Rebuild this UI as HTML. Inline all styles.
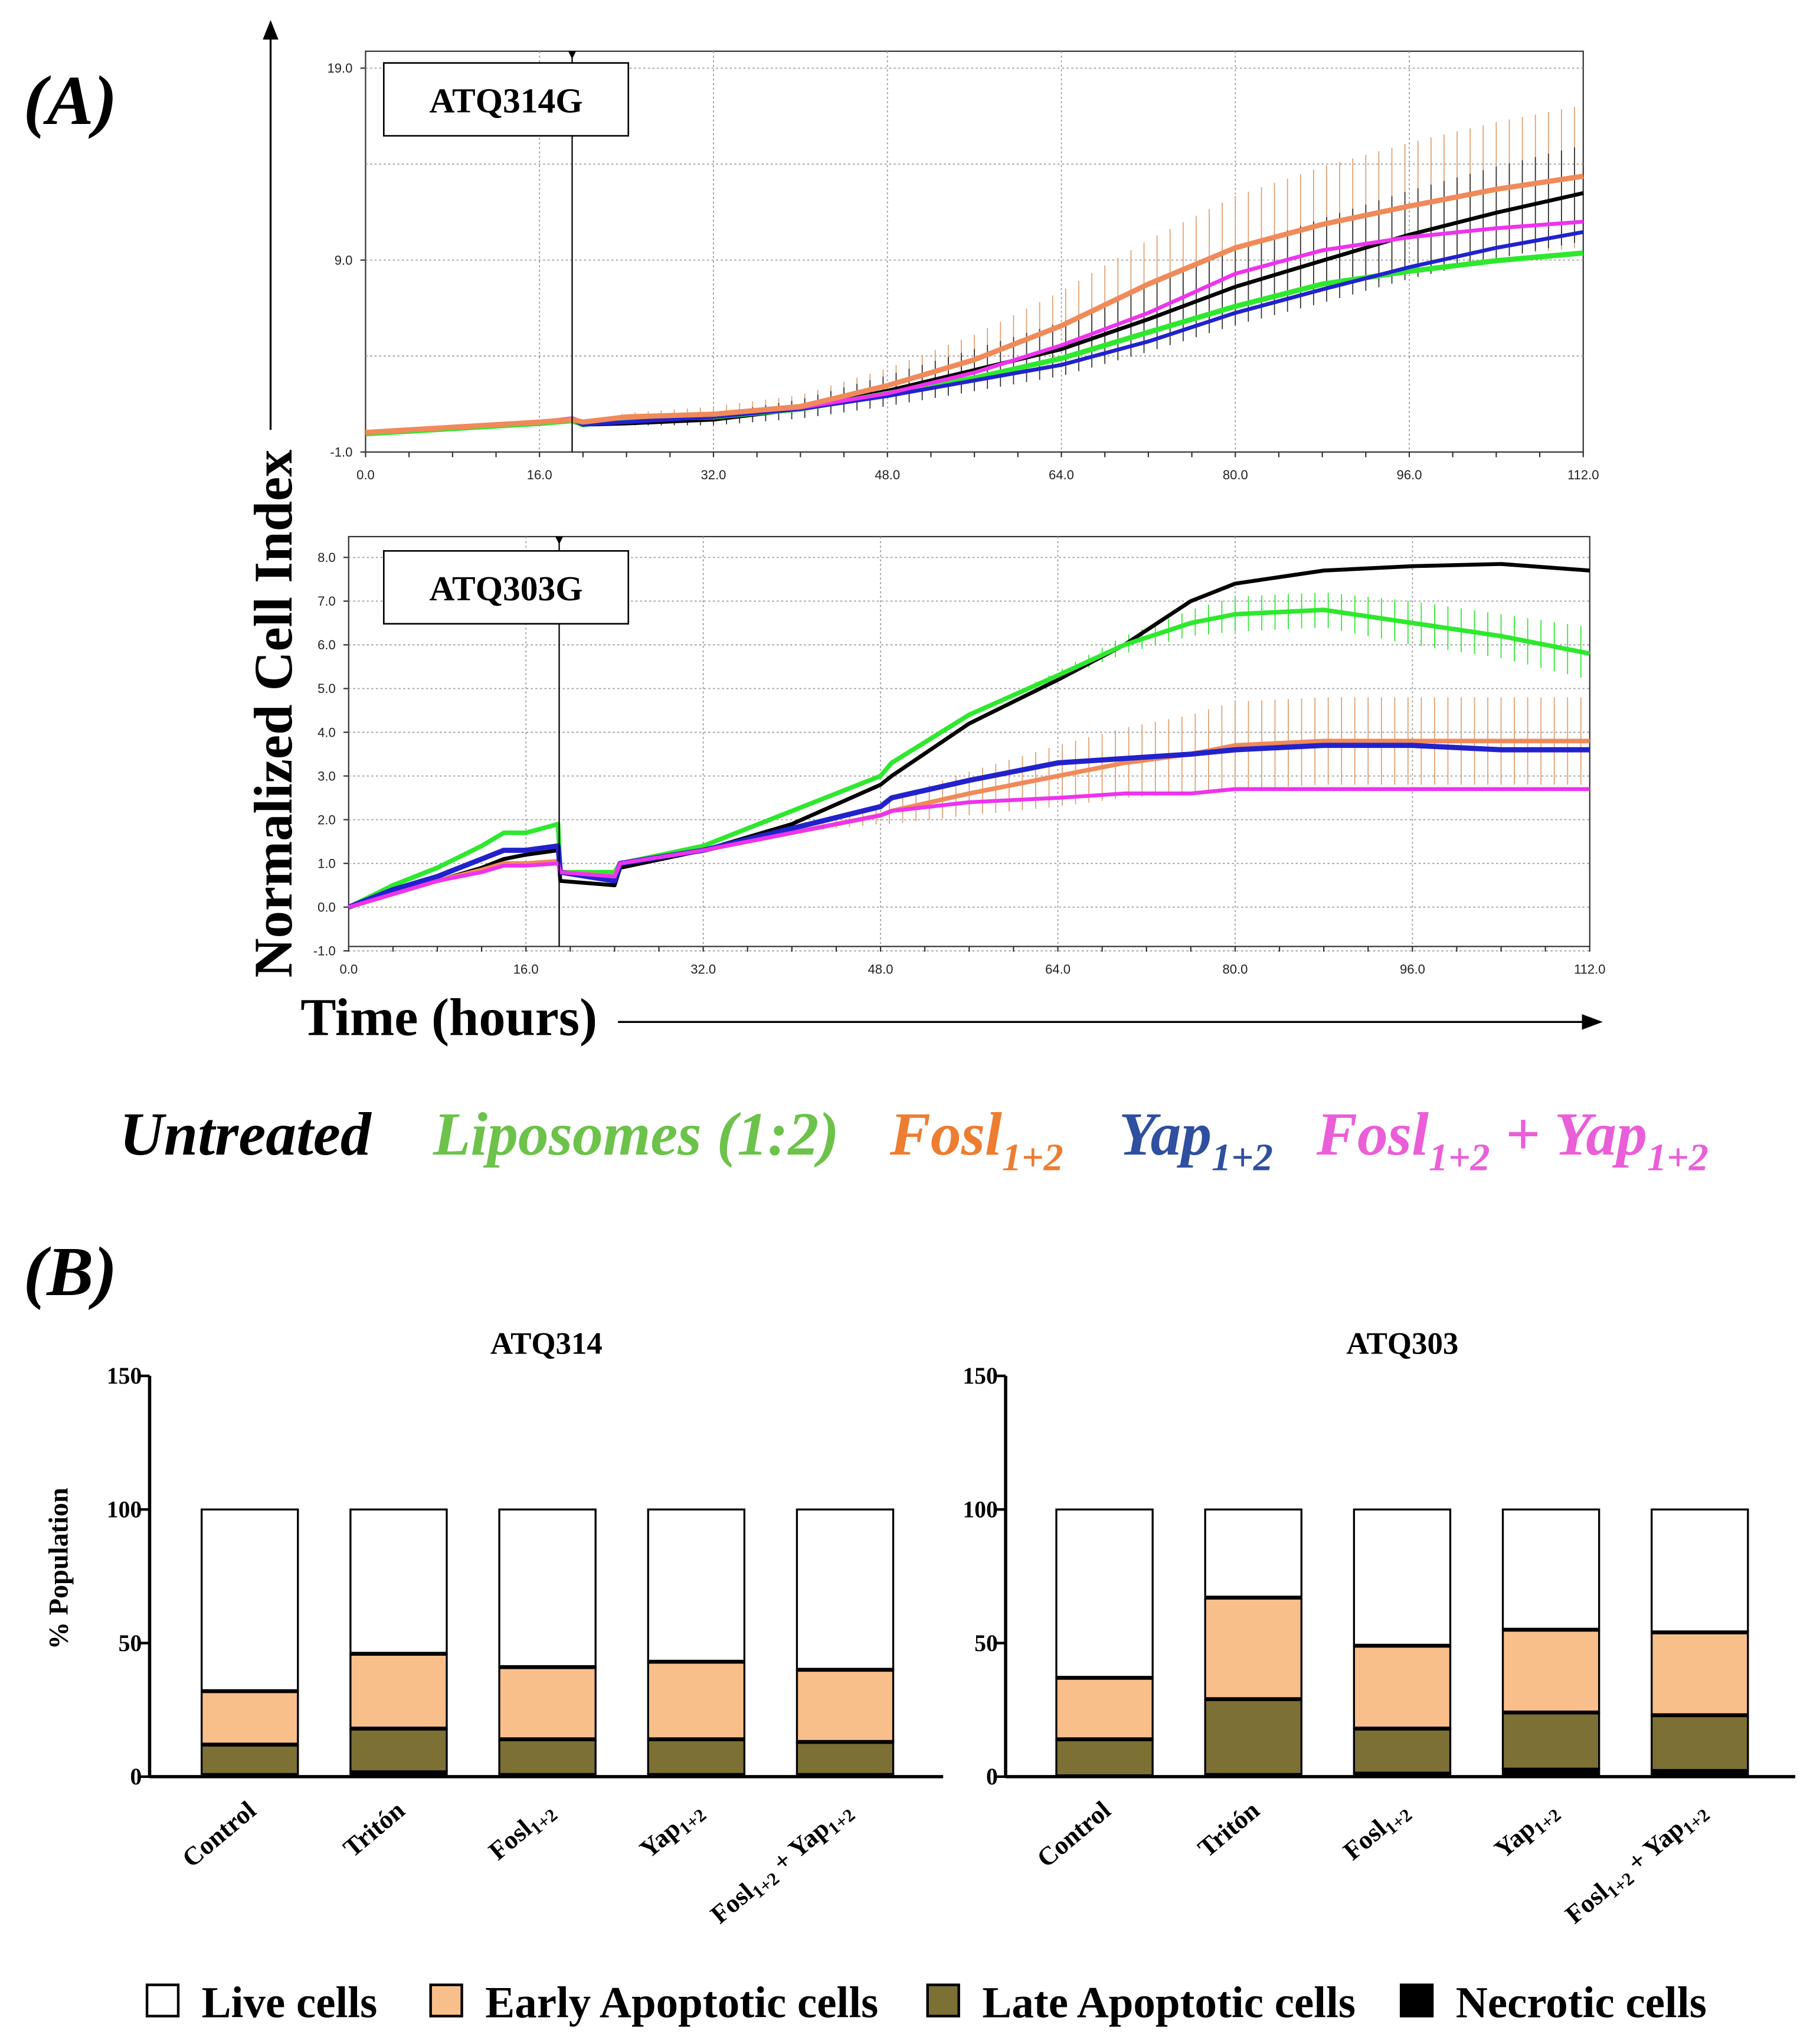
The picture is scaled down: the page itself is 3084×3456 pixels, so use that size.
<!DOCTYPE html>
<html><head><meta charset="utf-8"><style>
html,body{margin:0;padding:0;background:#fff}
svg{display:block}
text{font-family:"Liberation Serif",serif}
.tk{font-family:"Liberation Sans",sans-serif;font-size:10px;fill:#222}
</style></head><body>
<svg id="fig" width="3084" height="3456" viewBox="0 0 1399 1567" xmlns="http://www.w3.org/2000/svg">
<text x="18" y="95" font-size="54" font-weight="bold" font-style="italic">(A)</text>
<text x="18" y="995" font-size="54" font-weight="bold" font-style="italic">(B)</text>
<g id="top"></g>
<g id="bot"></g>
<line x1="208" y1="330" x2="208" y2="28" stroke="#000" stroke-width="1.5"/>
<polygon points="208,15 202,30 214,30" fill="#000"/>
<text transform="translate(224,548) rotate(-90)" text-anchor="middle" font-size="42" font-weight="bold">Normalized Cell Index</text>
<text x="231" y="795" font-size="41" font-weight="bold">Time (hours)</text>
<line x1="475" y1="785" x2="1218" y2="785" stroke="#000" stroke-width="1.5"/>
<polygon points="1232,785 1216,779 1216,791" fill="#000"/>
<g font-size="47" font-weight="bold" font-style="italic">
<text x="92" y="887" fill="#000">Untreated</text>
<text x="333" y="887" fill="#6cc24a">Liposomes (1:2)</text>
<text x="684" y="887" fill="#ed7d31">Fosl<tspan font-size="30" dy="12">1+2</tspan></text>
<text x="860" y="887" fill="#2f4f9f">Yap<tspan font-size="30" dy="12">1+2</tspan></text>
<text x="1012" y="887" fill="#ea5ed8">Fosl<tspan font-size="30" dy="12">1+2</tspan><tspan dy="-12"> + Yap</tspan><tspan font-size="30" dy="12">1+2</tspan></text>
</g>
<g id="bars"></g>
<text transform="translate(52,1205) rotate(-90)" text-anchor="middle" font-size="21" font-weight="bold">% Population</text>
<g font-size="34" font-weight="bold">
<rect x="113" y="1525" width="24" height="24" fill="#fff" stroke="#000" stroke-width="2"/><text x="155" y="1550">Live cells</text>
<rect x="331" y="1525" width="24" height="24" fill="#f9bf8a" stroke="#000" stroke-width="2"/><text x="373" y="1550">Early Apoptotic cells</text>
<rect x="713" y="1525" width="24" height="24" fill="#7c7034" stroke="#000" stroke-width="2"/><text x="755" y="1550">Late Apoptotic cells</text>
<rect x="1077" y="1525" width="24" height="24" fill="#000" stroke="#000" stroke-width="2"/><text x="1119" y="1550">Necrotic cells</text>
</g>
</svg>
<script>
const NS="http://www.w3.org/2000/svg";
// ---- top chart data (ATQ314G) ----
const hoursTop=[0,8,16,19,20,24,32,40,48,56,64,72,80,88,96,104,112];
const topUntreated=[0.02,0.29,0.56,0.69,0.42,0.49,0.69,1.24,2.19,3.27,4.36,5.92,7.61,8.97,10.32,11.47,12.49];
const topLipo=[-0.05,0.22,0.49,0.63,0.42,0.69,0.83,1.24,2.05,2.86,3.88,5.24,6.59,7.75,8.42,8.97,9.37];
const topFosl=[0.02,0.29,0.56,0.69,0.56,0.83,0.97,1.37,2.46,3.81,5.58,7.75,9.64,10.86,11.81,12.69,13.37];
const topYap=[0.02,0.29,0.56,0.69,0.42,0.56,0.83,1.24,1.92,2.73,3.54,4.76,6.25,7.47,8.63,9.64,10.46];
const topFoslYap=[0.02,0.29,0.56,0.76,0.56,0.83,0.97,1.31,2.05,3.14,4.56,6.25,8.29,9.51,10.19,10.66,11.0];
const topErrFosl=[0,0,0,0,0,0.2,0.4,0.6,0.9,1.3,1.8,2.3,2.7,3.0,3.3,3.5,3.7];
const topErrUntr=[0,0,0,0,0,0.1,0.3,0.5,0.8,1.1,1.4,1.7,2.0,2.2,2.3,2.4,2.5];
const topTicksY=["-1.0","9.0","19.0"];
const topTicksX=["0.0","16.0","32.0","48.0","64.0","80.0","96.0","112.0"];
// ---- bottom chart data (ATQ303G) ----
const hoursBot=[0,4,8,12,14,16,18.9,19.1,24,24.5,32,40,48,49,56,64,70,76,80,88,96,104,112];
const botUntreated=[0,0.3,0.6,0.9,1.1,1.2,1.3,0.6,0.5,0.9,1.3,1.9,2.8,3.0,4.2,5.2,6.0,7.0,7.4,7.7,7.8,7.85,7.7];
const botLipo=[0,0.5,0.9,1.4,1.7,1.7,1.9,0.8,0.8,1.0,1.4,2.2,3.0,3.3,4.4,5.3,6.0,6.5,6.7,6.8,6.5,6.2,5.8];
const botFosl=[0,0.3,0.6,0.85,1.0,1.0,1.05,0.8,0.7,1.0,1.3,1.7,2.1,2.2,2.6,3.0,3.3,3.5,3.7,3.8,3.8,3.8,3.8];
const botYap=[0,0.4,0.7,1.1,1.3,1.3,1.4,0.8,0.6,1.0,1.3,1.8,2.3,2.5,2.9,3.3,3.4,3.5,3.6,3.7,3.7,3.6,3.6];
const botFoslYap=[0,0.3,0.6,0.8,0.95,0.95,1.0,0.8,0.7,1.0,1.3,1.7,2.1,2.2,2.4,2.5,2.6,2.6,2.7,2.7,2.7,2.7,2.7];
const botErrLipo=[0,0,0,0,0,0,0,0,0,0,0,0,0,0,0,0.1,0.2,0.3,0.4,0.4,0.5,0.5,0.6];
const botErrFosl=[0,0,0,0,0,0,0,0,0,0,0,0,0.2,0.3,0.5,0.7,0.8,0.9,1.0,1.0,1.0,1.0,1.0];
const botTicksY=["-1.0","0.0","1.0","2.0","3.0","4.0","5.0","6.0","7.0","8.0"];
const botTicksX=["0.0","16.0","32.0","48.0","64.0","80.0","96.0","112.0"];
// ---- bar data ----
const barCats=["Control","Tritón","Fosl","Yap","FoslYap"];
const b314Necrotic=[1,2,1,1,1];
const b314Late=[11,16,13,13,12];
const b314Early=[20,28,27,29,27];
const b303Necrotic=[0.5,1,1.5,3,2.5];
const b303Late=[13.5,28,16.5,21,20.5];
const b303Early=[23,38,31,31,31];
const barTicks=[0,50,100,150];

const COL={untr:"#000",lipo:"#2ee82e",fosl:"#f08a5a",yap:"#2222cc",fy:"#ee33ee"};
function el(tag,attrs,parent){const e=document.createElementNS(NS,tag);for(const k in attrs)e.setAttribute(k,attrs[k]);parent.appendChild(e);return e;}
function interp(xs,ys,x){for(let i=0;i<xs.length-1;i++){if(x>=xs[i]&&x<=xs[i+1]){const t=(x-xs[i])/((xs[i+1]-xs[i])||1);return ys[i]+t*(ys[i+1]-ys[i]);}}return ys[ys.length-1];}

function lineChart(g,o){
  const X=h=>o.x0+(h-0)*(o.x1-o.x0)/112;
  const Y=v=>o.y0-(v-o.vmin)*(o.y0-o.y1)/(o.vmax-o.vmin);
  const r=el('rect',{x:o.x0,y:o.top,width:o.x1-o.x0,height:o.y0-o.top,fill:'#fff',stroke:'#333','stroke-width':1},g);
  
  for(let h=16;h<112;h+=16){el('line',{x1:X(h),x2:X(h),y1:o.top,y2:o.y0,stroke:'#999','stroke-dasharray':'1.5,2','stroke-width':0.8},g);}
  o.gridV.forEach(v=>{el('line',{x1:o.x0,x2:o.x1,y1:Y(v),y2:Y(v),stroke:'#999','stroke-dasharray':'1.5,2','stroke-width':0.8},g);});
  o.ticksY.forEach(t=>{const v=parseFloat(t);const tx=el('text',{x:o.x0-10,y:Y(v)+3.5,'text-anchor':'end',class:'tk'},g);tx.textContent=t;
    
    el('line',{x1:o.x0-4,x2:o.x0,y1:Y(v),y2:Y(v),stroke:'#333'},g);});
  o.ticksX.forEach(t=>{const h=parseFloat(t);const tx=el('text',{x:X(h),y:o.y0+21,'text-anchor':'middle',class:'tk'},g);tx.textContent=t;
    });
  for(let h=0;h<=112;h+=4){el('line',{x1:X(h),x2:X(h),y1:o.y0,y2:o.y0+4,stroke:'#333'},g);}
  o.errs.forEach(e=>{for(let h=20;h<=112;h+=1.2){const v=interp(o.hours,e.vals,h),er=interp(o.hours,e.err,h);if(er<=0.01)continue;
    el('line',{x1:X(h),x2:X(h),y1:Y(v-er),y2:Y(v+er),stroke:e.c,'stroke-width':0.8},g);}});
  o.series.forEach(s=>{const p=el('polyline',{points:o.hours.map((h,i)=>X(h)+','+Y(s.vals[i])).join(' '),fill:'none',stroke:s.c,'stroke-width':s.w||3,'stroke-linejoin':'round'},g);
    });
  el('line',{x1:X(19),x2:X(19),y1:o.top,y2:o.y0,stroke:'#000','stroke-width':1},g);
  el('polygon',{points:`${X(19)-3},${o.top} ${X(19)+3},${o.top} ${X(19)},${o.top+6}`,fill:'#000'},g);
  const b=el('rect',{x:295,y:o.boxY,width:188,height:56,fill:'#fff',stroke:'#000','stroke-width':1.2},g);
  
  const bt=el('text',{x:389,y:o.boxY+38,'text-anchor':'middle','font-size':27,'font-weight':'bold'},g);bt.textContent=o.label;
  
}
lineChart(document.getElementById('top'),{x0:281,x1:1217,y0:347,y1:52,top:39,vmin:-1,vmax:19,gridV:[4,9,14,19],ticksY:topTicksY,ticksX:topTicksX,hours:hoursTop,boxY:48,label:"ATQ314G",
  errs:[{vals:topFosl,err:topErrFosl,c:'#e0a070'},{vals:topUntreated,err:topErrUntr,c:'#333'}],
  series:[{n:'untreated',vals:topUntreated,c:COL.untr},{n:'liposomes',vals:topLipo,c:COL.lipo,w:4},{n:'yap',vals:topYap,c:COL.yap},{n:'fosl-yap',vals:topFoslYap,c:COL.fy},{n:'fosl',vals:topFosl,c:COL.fosl,w:4}]});
lineChart(document.getElementById('bot'),{x0:268,x1:1222,y0:727,y1:428,top:412,vmin:-0.9,vmax:8,gridV:[-1,0,1,2,3,4,5,6,7,8],ticksY:botTicksY,ticksX:botTicksX,hours:hoursBot,boxY:423,label:"ATQ303G",
  errs:[{vals:botFosl,err:botErrFosl,c:'#e0a070'},{vals:botLipo,err:botErrLipo,c:'#2ee82e'}],
  series:[{n:'untreated',vals:botUntreated,c:COL.untr},{n:'liposomes',vals:botLipo,c:COL.lipo,w:3.5},{n:'fosl',vals:botFosl,c:COL.fosl,w:3.5},{n:'yap',vals:botYap,c:COL.yap,w:4},{n:'fosl-yap',vals:botFoslYap,c:COL.fy,w:3}]});

function barChart(g,o){
  const Y=v=>o.y0-v*(o.y0-o.y150)/150;
  const t=el('text',{x:o.tx,y:1040,'text-anchor':'middle','font-size':24,'font-weight':'bold'},g);t.textContent=o.title;
  
  el('line',{x1:o.ax,x2:o.ax,y1:Y(150),y2:o.y0,stroke:'#000','stroke-width':2.5},g);
  el('line',{x1:o.ax,x2:o.ax2,y1:o.y0,y2:o.y0,stroke:'#000','stroke-width':2.5},g);
  barTicks.forEach(v=>{el('line',{x1:o.ax-7,x2:o.ax,y1:Y(v),y2:Y(v),stroke:'#000','stroke-width':2},g);
    const tx=el('text',{x:o.ax-6,y:Y(v)+6,'text-anchor':'end','font-size':18,'font-weight':'bold'},g);tx.textContent=v;
    });
  barCats.forEach((c,i)=>{
    const x=o.bx+i*114.4, w=74;
    const n=o.nec[i],l=o.late[i],e=o.early[i];
    const segs=[[0,n,'#000','necrotic'],[n,n+l,'#7c7034','late-apoptotic'],[n+l,n+l+e,'#f9bf8a','early-apoptotic'],[n+l+e,100,'#fff','live']];
    segs.forEach(s=>{const r=el('rect',{x:x,y:Y(s[1]),width:w,height:Y(s[0])-Y(s[1]),fill:s[2],stroke:'#000','stroke-width':1.5},g);
      });
    el('line',{x1:x,x2:x+w,y1:Y(n+l),y2:Y(n+l),stroke:'#000','stroke-width':3},g);
    el('line',{x1:x,x2:x+w,y1:Y(n+l+e),y2:Y(n+l+e),stroke:'#000','stroke-width':3},g);
    const cx=x+w/2+6, cy=o.y0+28;
    const lb=el('text',{transform:`translate(${cx},${cy}) rotate(-40)`,'text-anchor':'end','font-size':20,'font-weight':'bold'},g);
    if(c==='Fosl'||c==='Yap'){lb.innerHTML=`${c}<tspan font-size="14" dy="4">1+2</tspan>`;}
    else if(c==='FoslYap'){lb.innerHTML=`Fosl<tspan font-size="14" dy="4">1+2</tspan><tspan dy="-4"> + Yap</tspan><tspan font-size="14" dy="4">1+2</tspan>`;}
    else lb.textContent=c;
    
  });
}
const bg=document.getElementById('bars');
barChart(bg,{title:"ATQ314",tx:420,ax:115,ax2:725,bx:155,y0:1365,y150:1057,nec:b314Necrotic,late:b314Late,early:b314Early});
barChart(bg,{title:"ATQ303",tx:1078,ax:773,ax2:1380,bx:812,y0:1365,y150:1057,nec:b303Necrotic,late:b303Late,early:b303Early});
</script>
</body></html>
